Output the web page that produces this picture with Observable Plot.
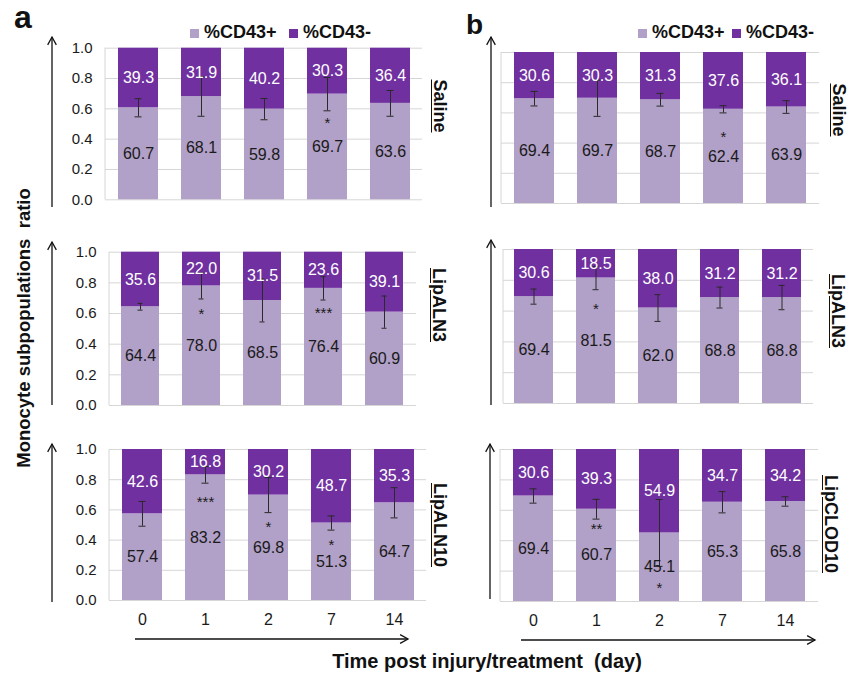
<!DOCTYPE html>
<html>
<head>
<meta charset="utf-8">
<script src="https://cdn.jsdelivr.net/npm/d3@7"></script>
<script src="https://cdn.jsdelivr.net/npm/@observablehq/plot@0.6"></script>
<style>
  html, body { margin: 0; padding: 0; background: #fff; }
  #root { position: relative; width: 855px; height: 676px; overflow: hidden; font-family: "Liberation Sans", Arial, sans-serif; color: #111; }
  .abs { position: absolute; white-space: nowrap; }
  .rot { font-weight: bold; font-size: 18px; text-decoration: underline; text-underline-offset: 2px; line-height: 1; transform: translate(-50%, -50%) rotate(90deg); }
  .leg { font-weight: bold; font-size: 18px; line-height: 18px; }
  .sw { position: absolute; width: 9px; height: 9px; }
</style>
</head>
<body>
<div id="root"></div>
<script>
// ---------- DATA ----------
const days = ["0", "1", "2", "7", "14"];
const seriesNames = ["%CD43+", "%CD43-"];
const yTicks = [0, 0.2, 0.4, 0.6, 0.8, 1.0];

// Panel a (left column)
const aSalinePos = [60.7, 68.1, 59.8, 69.7, 63.6];
const aSalineNeg = [39.3, 31.9, 40.2, 30.3, 36.4];
const aSalineErr = [0.06, 0.13, 0.07, 0.11, 0.085];
const aSalineSig = ["", "", "", "*", ""];
const aSalineSigY = [null, null, null, 0.534, null];

const aALN3Pos = [64.4, 78.0, 68.5, 76.4, 60.9];
const aALN3Neg = [35.6, 22.0, 31.5, 23.6, 39.1];
const aALN3Err = [0.022, 0.085, 0.14, 0.076, 0.105];
const aALN3Sig = ["", "*", "", "***", ""];
const aALN3SigY = [null, 0.62, null, 0.63, null];

const aALN10Pos = [57.4, 83.2, 69.8, 51.3, 64.7];
const aALN10Neg = [42.6, 16.8, 30.2, 48.7, 35.3];
const aALN10Err = [0.082, 0.055, 0.116, 0.047, 0.1];
const aALN10Sig = ["", "***", "*", "*", ""];
const aALN10SigY = [null, 0.68, 0.51, 0.39, null];

// Panel b (right column)
const bSalinePos = [69.4, 69.7, 68.7, 62.4, 63.9];
const bSalineNeg = [30.6, 30.3, 31.3, 37.6, 36.1];
const bSalineErr = [0.048, 0.12, 0.042, 0.024, 0.042];
const bSalineSig = ["", "", "", "*", ""];
const bSalineSigY = [null, null, null, 0.468, null];

const bALN3Pos = [69.4, 81.5, 62.0, 68.8, 68.8];
const bALN3Neg = [30.6, 18.5, 38.0, 31.2, 31.2];
const bALN3Err = [0.049, 0.076, 0.087, 0.068, 0.079];
const bALN3Sig = ["", "*", "", "", ""];
const bALN3SigY = [null, 0.64, null, null, null];

const bCLOD10Pos = [69.4, 60.7, 45.1, 65.3, 65.8];
const bCLOD10Neg = [30.6, 39.3, 54.9, 34.7, 34.2];
const bCLOD10Err = [0.047, 0.065, 0.22, 0.07, 0.031];
const bCLOD10Sig = ["", "**", "*", "", ""];
const bCLOD10SigY = [null, 0.50, 0.115, null, null];

// ---------- STYLE / LAYOUT ----------
const LIGHT = "#b1a0c7", DARK = "#7030a0", GRID = "#d6d6d6";
const FONT = "'Liberation Sans', Arial, sans-serif";

const panels = [
  {pos: aSalinePos, neg: aSalineNeg, err: aSalineErr, sig: aSalineSig, sigY: aSalineSigY,
   L: {left: 0, top: 30, width: 430, height: 182, fx0: 105, fx1: 422, fyTop: 47.7, fyBot: 199.3}, yAxis: true, xAxis: false},
  {pos: aALN3Pos, neg: aALN3Neg, err: aALN3Err, sig: aALN3Sig, sigY: aALN3SigY,
   L: {left: 0, top: 232, width: 430, height: 182, fx0: 109, fx1: 416, fyTop: 251.7, fyBot: 405}, yAxis: true, xAxis: false},
  {pos: aALN10Pos, neg: aALN10Neg, err: aALN10Err, sig: aALN10Sig, sigY: aALN10SigY,
   L: {left: 0, top: 435, width: 430, height: 200, fx0: 109, fx1: 426, fyTop: 449, fyBot: 600}, yAxis: true, xAxis: true},
  {pos: bSalinePos, neg: bSalineNeg, err: bSalineErr, sig: bSalineSig, sigY: bSalineSigY,
   L: {left: 430, top: 30, width: 425, height: 182, fx0: 501, fx1: 819, fyTop: 52, fyBot: 203}, yAxis: false, xAxis: false},
  {pos: bALN3Pos, neg: bALN3Neg, err: bALN3Err, sig: bALN3Sig, sigY: bALN3SigY,
   L: {left: 430, top: 232, width: 425, height: 182, fx0: 503, fx1: 813, fyTop: 249, fyBot: 403}, yAxis: false, xAxis: false},
  {pos: bCLOD10Pos, neg: bCLOD10Neg, err: bCLOD10Err, sig: bCLOD10Sig, sigY: bCLOD10SigY,
   L: {left: 430, top: 435, width: 425, height: 200, fx0: 500, fx1: 818, fyTop: 449, fyBot: 601}, yAxis: false, xAxis: true}
];

const root = document.getElementById("root");
const svgNS = "http://www.w3.org/2000/svg";

// left frame line of each panel, drawn from Plot's own dimensions
function leftLine(...args) {
  const dims = args.find(a => a && typeof a === "object" && "marginLeft" in a && "height" in a);
  const g = document.createElementNS(svgNS, "line");
  if (!dims) return g;
  g.setAttribute("x1", dims.marginLeft);
  g.setAttribute("x2", dims.marginLeft);
  g.setAttribute("y1", dims.marginTop);
  g.setAttribute("y2", dims.height - dims.marginBottom);
  g.setAttribute("stroke", GRID);
  return g;
}

for (const p of panels) {
  const rows = days.map((d, i) => ({
    day: d, pos: p.pos[i] / 100, posLabel: p.pos[i].toFixed(1), negLabel: p.neg[i].toFixed(1),
    err: p.err[i], sig: p.sig[i], sigY: p.sigY[i]
  }));
  const L = p.L;
  const marks = [
    Plot.gridY(yTicks, {stroke: GRID, strokeOpacity: 1, strokeWidth: 1}),
    leftLine,
    Plot.barY(rows, {x: "day", y1: 0, y2: "pos", fill: LIGHT}),
    Plot.barY(rows, {x: "day", y1: "pos", y2: 1, fill: DARK}),
    Plot.ruleX(rows, {x: "day", y1: d => d.pos - d.err, y2: d => d.pos + d.err, stroke: "#2a2a2a", strokeWidth: 1}),
    Plot.tickY(rows, {x: "day", y: d => d.pos - d.err, insetLeft: 16.5, insetRight: 16.5, stroke: "#2a2a2a", strokeWidth: 1}),
    Plot.tickY(rows, {x: "day", y: d => d.pos + d.err, insetLeft: 16.5, insetRight: 16.5, stroke: "#2a2a2a", strokeWidth: 1}),
    Plot.text(rows, {x: "day", y: d => d.pos / 2, text: "posLabel", fill: "#1a1a1a", fontSize: 16}),
    Plot.text(rows, {x: "day", y: d => (1 + d.pos) / 2, text: "negLabel", fill: "#ffffff", fontSize: 16}),
    Plot.text(rows.filter(d => d.sig), {x: "day", y: "sigY", text: "sig", fill: "#1a1a1a", fontSize: 15, dy: 4})
  ];
  if (p.yAxis) marks.push(Plot.axisY(yTicks, {tickSize: 0, tickPadding: 13, fontSize: 15, tickFormat: d => d.toFixed(1), label: null, color: "#1a1a1a"}));
  if (p.xAxis) marks.push(Plot.axisX({tickSize: 0, tickPadding: 13, fontSize: 16, label: null, color: "#1a1a1a"}));

  const chart = Plot.plot({
    width: L.width,
    height: L.height,
    marginLeft: L.fx0 - L.left,
    marginRight: L.left + L.width - L.fx1,
    marginTop: L.fyTop - L.top,
    marginBottom: L.top + L.height - L.fyBot,
    style: {background: "transparent", fontFamily: FONT, overflow: "visible"},
    x: {domain: days, paddingInner: 0.37, paddingOuter: 0.185, ...(p.xAxis ? {} : {axis: null})},
    y: {domain: [0, 1], ...(p.yAxis ? {} : {axis: null})},
    marks
  });
  const wrap = document.createElement("div");
  wrap.className = "abs";
  wrap.style.left = L.left + "px";
  wrap.style.top = L.top + "px";
  wrap.style.width = L.width + "px";
  wrap.style.height = L.height + "px";
  chart.style.maxWidth = "none";
  wrap.appendChild(chart);
  root.appendChild(wrap);
}

// ---------- TEXT / DECORATION ----------
function addText(html, css, cls) {
  const d = document.createElement("div");
  d.className = "abs" + (cls ? " " + cls : "");
  d.innerHTML = html;
  Object.assign(d.style, css);
  root.appendChild(d);
  return d;
}
addText("a", {left: "14px", top: "1px", fontSize: "32px", fontWeight: "bold", lineHeight: "32px"});
addText("b", {left: "466px", top: "11px", fontSize: "28px", fontWeight: "bold", lineHeight: "28px"});

// legends
const legendPos = [{sq: [190, 289], tx: [204, 303]}, {sq: [638, 732], tx: [652, 746]}];
for (const lp of legendPos) {
  [LIGHT, DARK].forEach((c, i) => {
    const s = document.createElement("div");
    s.className = "sw";
    s.style.left = lp.sq[i] + "px"; s.style.top = "29px"; s.style.background = c;
    root.appendChild(s);
    addText(seriesNames[i], {left: lp.tx[i] + "px", top: "23px"}, "leg");
  });
}

// axis titles
addText("Monocyte subpopulations&nbsp; ratio", {left: "24px", top: "328px", fontSize: "18.5px", fontWeight: "bold", lineHeight: "1", transform: "translate(-50%, -50%) rotate(-90deg)"});
addText("Time post injury/treatment&nbsp; (day)", {left: "487px", top: "661px", fontSize: "20px", fontWeight: "bold", lineHeight: "1", transform: "translate(-50%, -50%)"});

// row labels
const rowLabels = [
  ["Saline", 440, 106], ["LipALN3", 439, 305], ["LipALN10", 440, 525],
  ["Saline", 839, 110], ["LipALN3", 838, 311], ["LipCLOD10", 831, 524]
];
for (const [t, x, y] of rowLabels) addText(t, {left: x + "px", top: y + "px"}, "rot");

// arrows
const ov = document.createElementNS(svgNS, "svg");
ov.setAttribute("width", 855); ov.setAttribute("height", 676);
ov.style.position = "absolute"; ov.style.left = "0"; ov.style.top = "0"; ov.style.pointerEvents = "none";
function arrow(x1, y1, x2, y2) {
  const l = document.createElementNS(svgNS, "line");
  Object.entries({x1, y1, x2, y2, stroke: "#111", "stroke-width": 1.3}).forEach(([k, v]) => l.setAttribute(k, v));
  ov.appendChild(l);
  const ang = Math.atan2(y2 - y1, x2 - x1), len = 9, spread = 0.5;
  const pts = [
    [x2 - len * Math.cos(ang - spread), y2 - len * Math.sin(ang - spread)],
    [x2, y2],
    [x2 - len * Math.cos(ang + spread), y2 - len * Math.sin(ang + spread)]
  ];
  const pl = document.createElementNS(svgNS, "polyline");
  pl.setAttribute("points", pts.map(p => p.join(",")).join(" "));
  pl.setAttribute("fill", "none"); pl.setAttribute("stroke", "#111"); pl.setAttribute("stroke-width", 1.3);
  ov.appendChild(pl);
}
arrow(52, 207, 52, 37);
arrow(52, 405, 52, 242);
arrow(52, 602, 52, 444);
arrow(491, 207, 491, 37);
arrow(491, 405, 491, 240);
arrow(490, 599, 490, 444);
arrow(135, 639, 408, 639);
arrow(521, 640, 815, 640);
root.appendChild(ov);
</script>
</body>
</html>
